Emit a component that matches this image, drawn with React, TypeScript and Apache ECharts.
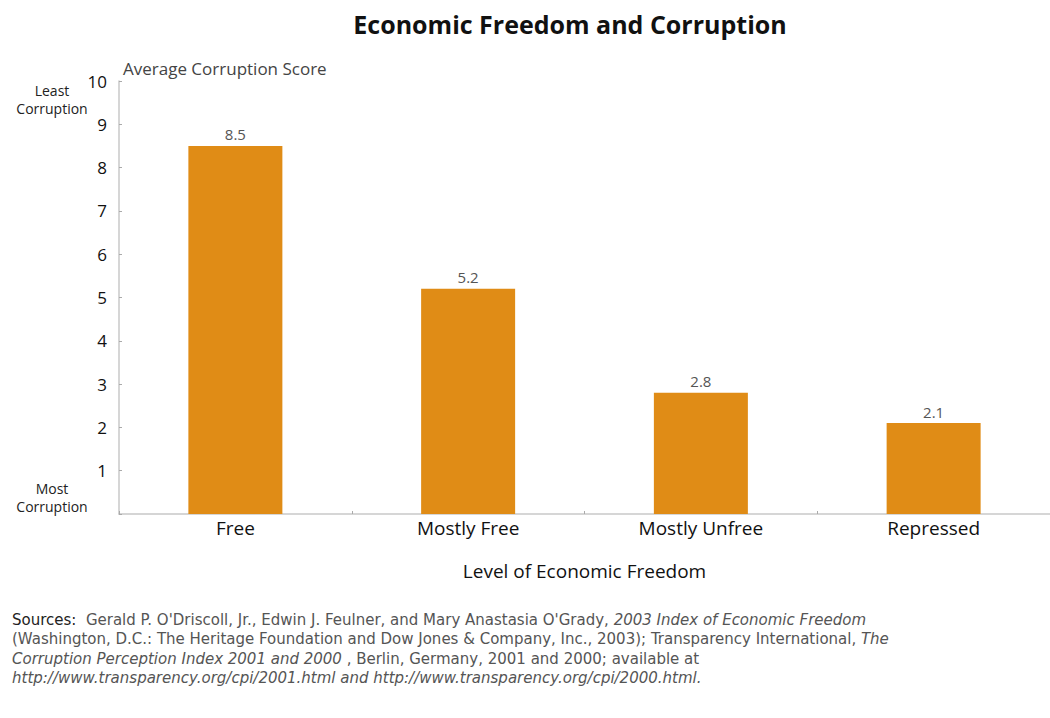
import React, { useEffect, useRef } from "react";
import * as echarts from "echarts";

const categories = ["Free", "Mostly Free", "Mostly Unfree", "Repressed"];
const scores = [8.5, 5.2, 2.8, 2.1];
const yTicks = ["", "1", "2", "3", "4", "5", "6", "7", "8", "9", "10"];

const FONT = "'Open Sans', Lato, sans-serif";
const SRC_FONT = "'DejaVu Sans', 'Open Sans', sans-serif";

export default function App() {
  const ref = useRef<HTMLDivElement>(null);
  useEffect(() => {
    if (!ref.current) return;
    const chart = echarts.init(ref.current, null, { renderer: "svg" });
    const SRC_SIZE = 15;
    const src = { fontFamily: SRC_FONT, fontSize: SRC_SIZE, fill: "#555" };
    const it = { fontStyle: "italic", fill: "#555", fontFamily: SRC_FONT, fontSize: SRC_SIZE };
    chart.setOption({
      animation: false,
      backgroundColor: "#fff",
      textStyle: { fontFamily: FONT },
      title: {
        text: "Economic Freedom and Corruption",
        left: 565,
        top: 6,
        textAlign: "center",
        textStyle: { fontFamily: FONT, fontSize: 25, fontWeight: "bold", color: "#111" },
      },
      grid: { left: 119, top: 81, width: 936, height: 433, containLabel: false },
      xAxis: {
        type: "category",
        data: categories,
        name: "Level of Economic Freedom",
        nameLocation: "middle",
        nameGap: 47,
        nameTextStyle: { fontSize: 19, color: "#111", fontFamily: FONT },
        axisLine: { lineStyle: { color: "#c8c8c8", width: 1.5 } },
        axisTick: { show: true, inside: true, length: 3, lineStyle: { color: "#aaa" } },
        axisLabel: { fontSize: 19, color: "#111", margin: 4, fontFamily: FONT },
      },
      yAxis: {
        type: "value",
        min: 0,
        max: 10,
        interval: 1,
        splitLine: { show: false },
        axisLine: { show: true, lineStyle: { color: "#c8c8c8", width: 1.5 } },
        axisTick: { show: true, inside: true, length: 3, lineStyle: { color: "#aaa" } },
        axisLabel: {
          fontSize: 17,
          color: "#111",
          margin: 12,
          fontFamily: FONT,
          formatter: (v: number) => yTicks[Math.round(v)] ?? "",
        },
      },
      series: [
        {
          type: "bar",
          data: scores,
          barWidth: 94,
          itemStyle: { color: "#E08C16" },
          label: {
            show: true,
            position: "top",
            distance: 4,
            fontSize: 15,
            color: "#555",
            fontFamily: FONT,
            formatter: (p: any) => String(p.value),
          },
        },
      ],
      graphic: [
        { type: "text", left: 123, top: 60, style: { text: "Average Corruption Score", fontFamily: FONT, fontSize: 17, fill: "#444" } },
        { type: "text", x: 52, y: 81, style: { text: "Least\nCorruption", align: "center", fontFamily: FONT, fontSize: 14, fill: "#222", lineHeight: 18 } },
        { type: "text", x: 52, y: 479, style: { text: "Most\nCorruption", align: "center", fontFamily: FONT, fontSize: 14, fill: "#222", lineHeight: 18 } },
        {
          type: "text", x: 12, y: 612,
          style: {
            text: "{b|Sources:}  Gerald P. O'Driscoll, Jr., Edwin J. Feulner, and Mary Anastasia O'Grady, {i|2003 Index of Economic Freedom}",
            ...src,
            rich: { b: { fill: "#222", fontFamily: SRC_FONT, fontSize: SRC_SIZE }, i: it },
          },
        },
        {
          type: "text", x: 12, y: 631.5,
          style: {
            text: "(Washington, D.C.: The Heritage Foundation and Dow Jones & Company, Inc., 2003); Transparency International, {i|The}",
            ...src,
            rich: { i: it },
          },
        },
        {
          type: "text", x: 12, y: 651,
          style: {
            text: "{i|Corruption Perception Index 2001 and 2000} , Berlin, Germany, 2001 and 2000; available at",
            ...src,
            rich: { i: it },
          },
        },
        {
          type: "text", x: 12, y: 670.5,
          style: {
            text: "http://www.transparency.org/cpi/2001.html and http://www.transparency.org/cpi/2000.html.",
            ...src,
            fontStyle: "italic",
          },
        },
      ],
    });
    return () => chart.dispose();
  }, []);
  return (
    <div
      ref={ref}
      style={{ position: "absolute", left: 0, top: 0, width: 1050, height: 718 }}
    />
  );
}
